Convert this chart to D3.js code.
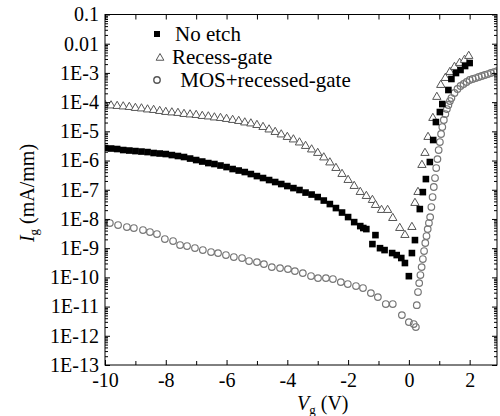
<!DOCTYPE html>
<html>
<head>
<meta charset="utf-8">
<script src="https://cdn.jsdelivr.net/npm/d3@7"></script>
<style>
  body { margin: 0; background: #fff; }
  text { font-family: "Liberation Serif", "Times New Roman", serif; }
</style>
</head>
<body>
<div id="chart"></div>
<script>
// [Vg (V), Ig (mA/mm)]
var noEtch = [
    [-10, 2.68e-6], [-9.8, 2.58e-6], [-9.6, 2.48e-6], [-9.4, 2.29e-6], [-9.2, 2.2e-6],
    [-9, 2.11e-6], [-8.8, 2.03e-6], [-8.6, 1.95e-6], [-8.4, 1.81e-6], [-8.2, 1.74e-6],
    [-8, 1.67e-6], [-7.8, 1.54e-6], [-7.6, 1.43e-6], [-7.4, 1.32e-6], [-7.2, 1.17e-6],
    [-7, 1.04e-6], [-6.8, 9.25e-7], [-6.6, 8.2e-7], [-6.4, 7.6e-7], [-6.2, 6.75e-7],
    [-6, 5.98e-7], [-5.8, 5.12e-7], [-5.6, 4.55e-7], [-5.4, 4.04e-7], [-5.2, 3.45e-7],
    [-5, 2.94e-7], [-4.8, 2.52e-7], [-4.6, 2.15e-7], [-4.4, 1.84e-7], [-4.2, 1.57e-7],
    [-4, 1.34e-7], [-3.8, 1.14e-7], [-3.6, 9.8e-8], [-3.4, 8.0e-8], [-3.2, 6.85e-8],
    [-3, 5.62e-8], [-2.8, 4.27e-8], [-2.6, 3.24e-8], [-2.4, 2.36e-8], [-2.2, 1.66e-8],
    [-2, 1.16e-8], [-1.8, 7.8e-9], [-1.6, 5.7e-9], [-1.5, 4.9e-9], [-1.4, 4.5e-9],
    [-1.2, 1.38e-9], [-1.1, 2.8e-9], [-0.95, 1.0e-9], [-0.8, 8.6e-10], [-0.55, 6.8e-10],
    [-0.4, 5.8e-10], [-0.25, 4.6e-10], [-0.13, 3.1e-10], [0, 1.1e-10],
    [0.1, 6.8e-10], [0.2, 1.89e-9], [0.36, 2.18e-8], [0.46, 8.3e-8], [0.56, 2.32e-7],
    [0.69, 8.9e-7], [0.8, 5.04e-6], [0.89, 2.08e-5], [1.02, 4.58e-5], [1.1, 8.6e-5],
    [1.3, 2.6e-4], [1.4, 6.2e-4], [1.55, 9.9e-4], [1.7, 1.26e-3], [1.85, 1.72e-3],
    [2.0, 2.18e-3]
];

var recessGate = [
    [-10, 7.96e-5], [-9.8, 7.65e-5], [-9.6, 7.35e-5], [-9.4, 7.07e-5], [-9.2, 6.79e-5],
    [-9, 6.28e-5], [-8.8, 6.04e-5], [-8.6, 5.58e-5], [-8.4, 5.36e-5], [-8.2, 4.95e-5],
    [-8, 4.58e-5], [-7.8, 4.41e-5], [-7.6, 4.24e-5], [-7.4, 3.91e-5], [-7.2, 3.76e-5],
    [-7, 3.61e-5], [-6.8, 3.34e-5], [-6.6, 3.21e-5], [-6.4, 2.97e-5], [-6.2, 2.85e-5],
    [-6, 2.64e-5], [-5.8, 2.44e-5], [-5.6, 2.25e-5], [-5.4, 2.0e-5], [-5.2, 1.85e-5],
    [-5, 1.64e-5], [-4.8, 1.4e-5], [-4.6, 1.15e-5], [-4.4, 9.46e-6], [-4.2, 7.77e-6],
    [-4, 6.38e-6], [-3.8, 5.24e-6], [-3.6, 4.13e-6], [-3.4, 3.14e-6], [-3.2, 2.38e-6],
    [-3, 1.81e-6], [-2.8, 1.27e-6], [-2.6, 8.55e-7], [-2.4, 5.53e-7], [-2.2, 3.45e-7],
    [-2, 2.15e-7], [-1.8, 1.34e-7], [-1.6, 8.34e-8], [-1.4, 6.08e-8], [-1.2, 4.44e-8],
    [-1.1, 2.99e-8], [-0.9, 2.02e-8], [-0.7, 2.02e-8], [-0.53, 1.07e-8], [-0.3, 4.88e-9],
    [-0.13, 2.81e-9],
    [0.1, 5.28e-9], [0.2, 3.51e-8], [0.3, 8.34e-8], [0.43, 7.02e-7], [0.53, 1.81e-6],
    [0.63, 6.38e-6], [0.79, 2.85e-5], [0.92, 1.5e-4], [1.05, 3.85e-4], [1.2, 6.68e-4],
    [1.35, 1.07e-3], [1.5, 1.59e-3], [1.67, 2.18e-3], [1.83, 2.77e-3], [1.97, 3.79e-3]
];

var mosRecessed = [
    [-9.84, 7.24e-9], [-9.57, 6.18e-9], [-9.28, 5.28e-9], [-9.05, 4.88e-9], [-8.75, 4.17e-9],
    [-8.52, 3.56e-9], [-8.29, 3.04e-9], [-8.03, 2.05e-9], [-7.76, 1.75e-9], [-7.53, 1.28e-9],
    [-7.3, 1.18e-9], [-7.04, 1.01e-9], [-6.78, 8.61e-10], [-6.51, 7.35e-10], [-6.28, 6.79e-10],
    [-6.02, 5.81e-10], [-5.76, 4.96e-10], [-5.49, 4.58e-10], [-5.26, 3.62e-10], [-5.0, 3.34e-10],
    [-4.77, 2.85e-10], [-4.51, 2.25e-10], [-4.24, 2.08e-10], [-3.98, 1.92e-10], [-3.75, 1.64e-10],
    [-3.49, 1.4e-10], [-3.22, 1.11e-10], [-2.99, 9.46e-11], [-2.73, 9.46e-11], [-2.5, 8.75e-11],
    [-2.24, 6.9e-11], [-2.01, 5.9e-11], [-1.74, 5.04e-11], [-1.51, 4.31e-11], [-1.25, 2.9e-11],
    [-1.02, 2.11e-11], [-0.76, 1.22e-11], [-0.53, 1.22e-11], [-0.23, 5.12e-12], [0.0, 2.94e-12],
    [0.16, 2.52e-12], [0.23, 1.99e-12],
    [0.26, 1.12e-11], [0.3, 3.14e-11], [0.34, 6.38e-11], [0.38, 1.2e-10], [0.42, 2.25e-10],
    [0.46, 4.24e-10], [0.5, 7.96e-10], [0.54, 1.5e-9], [0.58, 2.6e-9], [0.62, 4.5e-9],
    [0.66, 7.24e-9], [0.7, 1.16e-8], [0.74, 2.56e-8], [0.78, 5.62e-8], [0.82, 1.24e-7],
    [0.86, 2.52e-7], [0.9, 5.53e-7], [0.94, 1.12e-6], [0.98, 2.29e-6], [1.02, 4.3e-6],
    [1.06, 8.09e-6], [1.1, 1.4e-5], [1.15, 2.44e-5], [1.2, 3.91e-5], [1.25, 5.8e-5],
    [1.3, 7.96e-5], [1.35, 1.09e-4], [1.4, 1.38e-4], [1.5, 2.05e-4], [1.6, 2.81e-4],
    [1.7, 3.56e-4], [1.8, 4.17e-4], [1.9, 4.88e-4], [2.0, 5.71e-4], [2.1, 6.18e-4],
    [2.2, 6.68e-4], [2.3, 7.24e-4], [2.4, 7.83e-4], [2.5, 8.47e-4], [2.6, 9.16e-4],
    [2.7, 9.93e-4], [2.8, 1.07e-3], [2.9, 1.16e-3], [3.0, 1.26e-3]
];

var xMajor = [-10, -8, -6, -4, -2, 0, 2];
var xMinor = [-9, -7, -5, -3, -1, 1];
var yMajor = [1e-1, 1e-2, 1e-3, 1e-4, 1e-5, 1e-6, 1e-7, 1e-8, 1e-9, 1e-10, 1e-11, 1e-12, 1e-13];
var yLabels = ["0.1", "0.01", "1E-3", "1E-4", "1E-5", "1E-6", "1E-7", "1E-8", "1E-9",
    "1E-10", "1E-11", "1E-12", "1E-13"];
var legendLabels = ["No etch", "Recess-gate", " MOS+recessed-gate"];

var width = 500, height = 416;
var plotL = 105, plotR = 497, plotT = 14.5, plotB = 365;

var svg = d3.select("#chart")
    .append("svg")
    .attr("width", width)
    .attr("height", height)
    .style("background-color", "#fff");

var x = d3.scaleLinear().domain([-10, 2.9]).range([plotL, plotR]);
var y = d3.scaleLog().domain([1e-13, 0.1]).range([plotB, plotT]);

// minor log ticks 2..9 of every decade
var yMinor = [];
for (var k = -13; k < -1; k++) {
    for (var m = 2; m <= 9; m++) yMinor.push(m * Math.pow(10, k));
}

svg.append("clipPath").attr("id", "plotclip")
    .append("rect")
    .attr("x", plotL).attr("y", plotT)
    .attr("width", plotR - plotL).attr("height", plotB - plotT);

var plot = svg.append("g").attr("clip-path", "url(#plotclip)");

// triangles
plot.append("g")
    .selectAll("path")
    .data(recessGate)
    .enter()
    .append("path")
    .attr("d", d3.symbol().type(d3.symbolTriangle).size(30))
    .attr("transform", function (d) {
        return "translate(" + x(d[0]) + "," + y(d[1]) + ")";
    })
    .attr("fill", "#fff")
    .attr("stroke", "#555")
    .attr("stroke-width", 1);

// circles
plot.append("g")
    .selectAll("circle")
    .data(mosRecessed)
    .enter()
    .append("circle")
    .attr("cx", function (d) { return x(d[0]); })
    .attr("cy", function (d) { return y(d[1]); })
    .attr("r", 3.3)
    .attr("fill", "none")
    .attr("stroke", "#777")
    .attr("stroke-width", 1.2);

// squares
plot.append("g")
    .selectAll("rect")
    .data(noEtch)
    .enter()
    .append("rect")
    .attr("x", function (d) { return x(d[0]) - 3.3; })
    .attr("y", function (d) { return y(d[1]) - 3.3; })
    .attr("width", 6.6)
    .attr("height", 6.6)
    .attr("fill", "#000");

// axes
function styleAxis(g) {
    g.select(".domain").remove();
    g.selectAll("line").attr("stroke", "#000");
    g.selectAll("text")
        .attr("fill", "#000")
        .style("font-size", "20px");
}

svg.append("g")
    .attr("transform", "translate(0," + plotB + ")")
    .call(d3.axisBottom(x).tickValues(xMajor).tickSize(-5).tickPadding(8)
        .tickFormat(function (d) { return d; }))
    .call(styleAxis);
svg.append("g")
    .attr("transform", "translate(0," + plotB + ")")
    .call(d3.axisBottom(x).tickValues(xMinor).tickSize(-4).tickFormat(""))
    .call(styleAxis);
svg.append("g")
    .attr("transform", "translate(0," + plotT + ")")
    .call(d3.axisTop(x).tickValues(xMajor.concat(xMinor)).tickSize(-5).tickFormat(""))
    .call(styleAxis);

svg.append("g")
    .attr("transform", "translate(" + plotL + ",0)")
    .call(d3.axisLeft(y).tickValues(yMajor).tickSize(-5).tickPadding(6)
        .tickFormat(function (d, i) { return yLabels[i]; }))
    .call(styleAxis);
svg.append("g")
    .attr("transform", "translate(" + plotL + ",0)")
    .call(d3.axisLeft(y).tickValues(yMinor).tickSize(-3).tickFormat(""))
    .call(styleAxis);
svg.append("g")
    .attr("transform", "translate(" + plotR + ",0)")
    .call(d3.axisRight(y).tickValues(yMajor).tickSize(-5).tickFormat(""))
    .call(styleAxis);
svg.append("g")
    .attr("transform", "translate(" + plotR + ",0)")
    .call(d3.axisRight(y).tickValues(yMinor).tickSize(-3).tickFormat(""))
    .call(styleAxis);

svg.append("rect")
    .attr("x", plotL).attr("y", plotT)
    .attr("width", plotR - plotL).attr("height", plotB - plotT)
    .attr("fill", "none")
    .attr("stroke", "#000")
    .attr("stroke-width", 1);

// axis titles
var xt = svg.append("text")
    .attr("x", 297).attr("y", 410)
    .style("font-size", "20px");
xt.append("tspan").style("font-style", "italic").text("V");
xt.append("tspan").attr("dy", 4).style("font-size", "13px").text("g");
xt.append("tspan").attr("dy", -4).text(" (V)");

var yt = svg.append("text")
    .attr("transform", "translate(34,193) rotate(-90)")
    .attr("text-anchor", "middle")
    .style("font-size", "20px");
yt.append("tspan").style("font-style", "italic").text("I");
yt.append("tspan").attr("dy", 4).style("font-size", "13px").text("g");
yt.append("tspan").attr("dy", -4).text(" (mA/mm)");

// legend
var legend = svg.append("g");
legend.append("rect")
    .attr("x", 154).attr("y", 31).attr("width", 6).attr("height", 6)
    .attr("fill", "#000");
legend.append("path")
    .attr("d", d3.symbol().type(d3.symbolTriangle).size(26))
    .attr("transform", "translate(160,58)")
    .attr("fill", "#fff").attr("stroke", "#555");
legend.append("circle")
    .attr("cx", 157).attr("cy", 80).attr("r", 3.2)
    .attr("fill", "none").attr("stroke", "#555").attr("stroke-width", 1.4);

legend.selectAll("text")
    .data(legendLabels)
    .enter()
    .append("text")
    .attr("x", function (d, i) { return i === 1 ? 172 : 175; })
    .attr("y", function (d, i) { return 41 + i * 23; })
    .style("font-size", "21px")
    .attr("xml:space", "preserve")
    .text(function (d) { return d; });
</script>
</body>
</html>
